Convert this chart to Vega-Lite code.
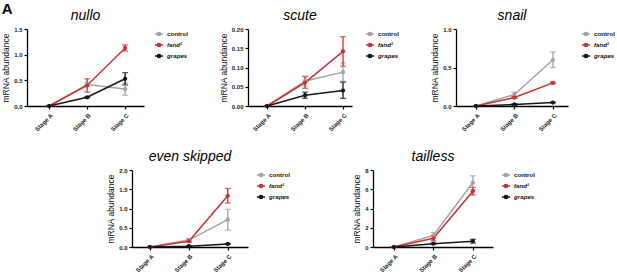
{
  "$schema": "https://vega.github.io/schema/vega-lite/v6.json",
  "padding": {"left": 1, "top": 2, "right": 0, "bottom": 0},
  "title": {"text": "A", "anchor": "start", "fontSize": 15, "fontWeight": "bold", "fontStyle": "normal", "font": "Liberation Sans", "offset": -8},
  "datasets": {
    "d": [
      {"gene": "nullo", "group": "control", "stage": "Stage A", "mean": 0, "lo": 0, "hi": 0},
      {"gene": "nullo", "group": "control", "stage": "Stage B", "mean": 0.42, "lo": 0.38, "hi": 0.46},
      {"gene": "nullo", "group": "control", "stage": "Stage C", "mean": 0.33, "lo": 0.21, "hi": 0.45},
      {"gene": "nullo", "group": "fand¹", "stage": "Stage A", "mean": 0, "lo": 0, "hi": 0},
      {"gene": "nullo", "group": "fand¹", "stage": "Stage B", "mean": 0.40, "lo": 0.27, "hi": 0.53},
      {"gene": "nullo", "group": "fand¹", "stage": "Stage C", "mean": 1.13, "lo": 1.07, "hi": 1.19},
      {"gene": "nullo", "group": "grapes", "stage": "Stage A", "mean": 0, "lo": 0, "hi": 0},
      {"gene": "nullo", "group": "grapes", "stage": "Stage B", "mean": 0.17, "lo": 0.16, "hi": 0.18},
      {"gene": "nullo", "group": "grapes", "stage": "Stage C", "mean": 0.53, "lo": 0.41, "hi": 0.65},
      {"gene": "scute", "group": "control", "stage": "Stage A", "mean": 0, "lo": 0, "hi": 0},
      {"gene": "scute", "group": "control", "stage": "Stage B", "mean": 0.065, "lo": 0.052, "hi": 0.078},
      {"gene": "scute", "group": "control", "stage": "Stage C", "mean": 0.088, "lo": 0.064, "hi": 0.112},
      {"gene": "scute", "group": "fand¹", "stage": "Stage A", "mean": 0, "lo": 0, "hi": 0},
      {"gene": "scute", "group": "fand¹", "stage": "Stage B", "mean": 0.061, "lo": 0.046, "hi": 0.076},
      {"gene": "scute", "group": "fand¹", "stage": "Stage C", "mean": 0.142, "lo": 0.103, "hi": 0.180},
      {"gene": "scute", "group": "grapes", "stage": "Stage A", "mean": 0, "lo": 0, "hi": 0},
      {"gene": "scute", "group": "grapes", "stage": "Stage B", "mean": 0.028, "lo": 0.020, "hi": 0.036},
      {"gene": "scute", "group": "grapes", "stage": "Stage C", "mean": 0.040, "lo": 0.020, "hi": 0.062},
      {"gene": "snail", "group": "control", "stage": "Stage A", "mean": 0, "lo": 0, "hi": 0},
      {"gene": "snail", "group": "control", "stage": "Stage B", "mean": 0.15, "lo": 0.12, "hi": 0.18},
      {"gene": "snail", "group": "control", "stage": "Stage C", "mean": 0.60, "lo": 0.50, "hi": 0.70},
      {"gene": "snail", "group": "fand¹", "stage": "Stage A", "mean": 0, "lo": 0, "hi": 0},
      {"gene": "snail", "group": "fand¹", "stage": "Stage B", "mean": 0.11, "lo": 0.10, "hi": 0.12},
      {"gene": "snail", "group": "fand¹", "stage": "Stage C", "mean": 0.30, "lo": 0.29, "hi": 0.31},
      {"gene": "snail", "group": "grapes", "stage": "Stage A", "mean": 0, "lo": 0, "hi": 0},
      {"gene": "snail", "group": "grapes", "stage": "Stage B", "mean": 0.02, "lo": 0.01, "hi": 0.03},
      {"gene": "snail", "group": "grapes", "stage": "Stage C", "mean": 0.045, "lo": 0.04, "hi": 0.05},
      {"gene": "even skipped", "group": "control", "stage": "Stage A", "mean": 0, "lo": 0, "hi": 0},
      {"gene": "even skipped", "group": "control", "stage": "Stage B", "mean": 0.18, "lo": 0.14, "hi": 0.22},
      {"gene": "even skipped", "group": "control", "stage": "Stage C", "mean": 0.71, "lo": 0.44, "hi": 0.98},
      {"gene": "even skipped", "group": "fand¹", "stage": "Stage A", "mean": 0, "lo": 0, "hi": 0},
      {"gene": "even skipped", "group": "fand¹", "stage": "Stage B", "mean": 0.15, "lo": 0.12, "hi": 0.18},
      {"gene": "even skipped", "group": "fand¹", "stage": "Stage C", "mean": 1.33, "lo": 1.14, "hi": 1.52},
      {"gene": "even skipped", "group": "grapes", "stage": "Stage A", "mean": 0, "lo": 0, "hi": 0},
      {"gene": "even skipped", "group": "grapes", "stage": "Stage B", "mean": 0.02, "lo": 0.01, "hi": 0.03},
      {"gene": "even skipped", "group": "grapes", "stage": "Stage C", "mean": 0.08, "lo": 0.07, "hi": 0.09},
      {"gene": "tailless", "group": "control", "stage": "Stage A", "mean": 0, "lo": 0, "hi": 0},
      {"gene": "tailless", "group": "control", "stage": "Stage B", "mean": 1.2, "lo": 0.9, "hi": 1.5},
      {"gene": "tailless", "group": "control", "stage": "Stage C", "mean": 6.7, "lo": 5.95, "hi": 7.4},
      {"gene": "tailless", "group": "fand¹", "stage": "Stage A", "mean": 0, "lo": 0, "hi": 0},
      {"gene": "tailless", "group": "fand¹", "stage": "Stage B", "mean": 0.9, "lo": 0.65, "hi": 1.15},
      {"gene": "tailless", "group": "fand¹", "stage": "Stage C", "mean": 5.8, "lo": 5.4, "hi": 6.2},
      {"gene": "tailless", "group": "grapes", "stage": "Stage A", "mean": 0, "lo": 0, "hi": 0},
      {"gene": "tailless", "group": "grapes", "stage": "Stage B", "mean": 0.35, "lo": 0.3, "hi": 0.4},
      {"gene": "tailless", "group": "grapes", "stage": "Stage C", "mean": 0.6, "lo": 0.4, "hi": 0.8}
    ]
  },
  "spacing": 17,
  "resolve": {"legend": {"color": "independent"}, "scale": {"color": "independent"}},
  "vconcat": [
    {
      "spacing": 31,
      "align": "none",
      "resolve": {"legend": {"color": "independent"}, "scale": {"color": "independent"}},
      "hconcat": [
        {
          "title": "nullo",
          "width": 117, "height": 77,
          "data": {"name": "d"},
          "transform": [{"filter": "datum.gene === 'nullo'"}],
          "encoding": {
            "x": {"field": "stage", "type": "ordinal", "title": null, "scale": {"type": "point", "padding": 0.54, "align": 0.54}},
            "color": {"field": "group", "type": "nominal", "scale": {"domain": ["control", "fand¹", "grapes"], "range": ["#a3a3a3", "#c8312f", "#161616"]}, "legend": {"offset": 10, "encode": {"labels": {"update": {"fontStyle": {"signal": "datum.label === 'control' ? 'normal' : 'italic'"}}}}}}
          },
          "layer": [
            {"mark": {"type": "errorbar", "ticks": {"size": 6}, "thickness": 1.3}, "encoding": {"y": {"field": "lo", "type": "quantitative", "scale": {"domain": [0, 1.5]}, "axis": {"values": [0, 0.5, 1, 1.5], "format": ".1f", "title": "mRNA abundance"}}, "y2": {"field": "hi"}}},
            {"mark": {"type": "line", "strokeWidth": 1.5, "point": {"filled": true, "size": 18}}, "encoding": {"y": {"field": "mean", "type": "quantitative", "scale": {"domain": [0, 1.5]}, "axis": {"values": [0, 0.5, 1, 1.5], "format": ".1f", "title": "mRNA abundance"}}}}
          ]
        },
        {
          "title": "scute",
          "width": 104, "height": 77,
          "data": {"name": "d"},
          "transform": [{"filter": "datum.gene === 'scute'"}],
          "encoding": {
            "x": {"field": "stage", "type": "ordinal", "title": null, "scale": {"type": "point", "padding": 0.37, "align": 0.68}},
            "color": {"field": "group", "type": "nominal", "scale": {"domain": ["control", "fand¹", "grapes"], "range": ["#a3a3a3", "#c8312f", "#161616"]}, "legend": {"encode": {"labels": {"update": {"fontStyle": {"signal": "datum.label === 'control' ? 'normal' : 'italic'"}}}}}}
          },
          "layer": [
            {"mark": {"type": "errorbar", "ticks": {"size": 6}, "thickness": 1.3}, "encoding": {"y": {"field": "lo", "type": "quantitative", "scale": {"domain": [0, 0.2]}, "axis": {"values": [0, 0.05, 0.1, 0.15, 0.2], "format": ".2f", "title": "mRNA abundance"}}, "y2": {"field": "hi"}}},
            {"mark": {"type": "line", "strokeWidth": 1.5, "point": {"filled": true, "size": 18}}, "encoding": {"y": {"field": "mean", "type": "quantitative", "scale": {"domain": [0, 0.2]}, "axis": {"values": [0, 0.05, 0.1, 0.15, 0.2], "format": ".2f", "title": "mRNA abundance"}}}}
          ]
        },
        {
          "title": "snail",
          "width": 112, "height": 77,
          "data": {"name": "d"},
          "transform": [{"filter": "datum.gene === 'snail'"}],
          "encoding": {
            "x": {"field": "stage", "type": "ordinal", "title": null, "scale": {"type": "point", "padding": 0.455, "align": 0.57}},
            "color": {"field": "group", "type": "nominal", "scale": {"domain": ["control", "fand¹", "grapes"], "range": ["#a3a3a3", "#c8312f", "#161616"]}, "legend": {"encode": {"labels": {"update": {"fontStyle": {"signal": "datum.label === 'control' ? 'normal' : 'italic'"}}}}}}
          },
          "layer": [
            {"mark": {"type": "errorbar", "ticks": {"size": 6}, "thickness": 1.3}, "encoding": {"y": {"field": "lo", "type": "quantitative", "scale": {"domain": [0, 1]}, "axis": {"values": [0, 0.5, 1], "format": ".1f", "title": "mRNA abundance"}}, "y2": {"field": "hi"}}},
            {"mark": {"type": "line", "strokeWidth": 1.5, "point": {"filled": true, "size": 18}}, "encoding": {"y": {"field": "mean", "type": "quantitative", "scale": {"domain": [0, 1]}, "axis": {"values": [0, 0.5, 1], "format": ".1f", "title": "mRNA abundance"}}}}
          ]
        }
      ]
    },
    {
      "spacing": 62,
      "align": "none",
      "resolve": {"legend": {"color": "independent"}, "scale": {"color": "independent"}},
      "hconcat": [
        {
          "width": 17, "height": 10,
          "data": {"values": []},
          "mark": "point"
        },
        {
          "title": "even skipped",
          "width": 116, "height": 77,
          "data": {"name": "d"},
          "transform": [{"filter": "datum.gene === 'even skipped'"}],
          "encoding": {
            "x": {"field": "stage", "type": "ordinal", "title": null, "scale": {"type": "point", "padding": 0.49, "align": 0.47}},
            "color": {"field": "group", "type": "nominal", "scale": {"domain": ["control", "fand¹", "grapes"], "range": ["#a3a3a3", "#c8312f", "#161616"]}, "legend": {"offset": 8, "encode": {"labels": {"update": {"fontStyle": {"signal": "datum.label === 'control' ? 'normal' : 'italic'"}}}}}}
          },
          "layer": [
            {"mark": {"type": "errorbar", "ticks": {"size": 6}, "thickness": 1.3}, "encoding": {"y": {"field": "lo", "type": "quantitative", "scale": {"domain": [0, 2]}, "axis": {"values": [0, 0.5, 1, 1.5, 2], "format": ".1f", "title": "mRNA abundance"}}, "y2": {"field": "hi"}}},
            {"mark": {"type": "line", "strokeWidth": 1.5, "point": {"filled": true, "size": 18}}, "encoding": {"y": {"field": "mean", "type": "quantitative", "scale": {"domain": [0, 2]}, "axis": {"values": [0, 0.5, 1, 1.5, 2], "format": ".1f", "title": "mRNA abundance"}}}}
          ]
        },
        {
          "title": "tailless",
          "width": 120, "height": 77,
          "data": {"name": "d"},
          "transform": [{"filter": "datum.gene === 'tailless'"}],
          "encoding": {
            "x": {"field": "stage", "type": "ordinal", "title": null, "scale": {"type": "point", "padding": 0.52, "align": 0.51}},
            "color": {"field": "group", "type": "nominal", "scale": {"domain": ["control", "fand¹", "grapes"], "range": ["#a3a3a3", "#c8312f", "#161616"]}, "legend": {"offset": 8, "encode": {"labels": {"update": {"fontStyle": {"signal": "datum.label === 'control' ? 'normal' : 'italic'"}}}}}}
          },
          "layer": [
            {"mark": {"type": "errorbar", "ticks": {"size": 6}, "thickness": 1.3}, "encoding": {"y": {"field": "lo", "type": "quantitative", "scale": {"domain": [0, 8]}, "axis": {"values": [0, 2, 4, 6, 8], "format": "d", "title": "mRNA abundance"}}, "y2": {"field": "hi"}}},
            {"mark": {"type": "line", "strokeWidth": 1.5, "point": {"filled": true, "size": 18}}, "encoding": {"y": {"field": "mean", "type": "quantitative", "scale": {"domain": [0, 8]}, "axis": {"values": [0, 2, 4, 6, 8], "format": "d", "title": "mRNA abundance"}}}}
          ]
        }
      ]
    }
  ],
  "config": {
    "view": {"stroke": null},
    "font": "Liberation Sans",
    "title": {"fontSize": 14, "fontStyle": "italic", "fontWeight": "normal", "font": "Liberation Sans", "offset": 3, "color": "#000"},
    "axis": {"grid": false, "domainColor": "#000", "domainWidth": 1.3, "tickColor": "#000", "tickWidth": 1.2, "tickSize": 3, "labelColor": "#222", "labelFontSize": 6, "labelFontWeight": "bold", "labelFont": "Liberation Sans", "titleFont": "Liberation Sans", "titleFontSize": 8.5, "titleFontWeight": "normal", "titleColor": "#111", "labelPadding": 2, "titlePadding": 3, "labelOverlap": false},
    "axisX": {"labelAngle": -45, "labelPadding": 3},
    "legend": {"title": null, "orient": "right", "offset": 13, "labelFontSize": 6.2, "labelFontWeight": "bold", "labelColor": "#111", "labelFont": "Liberation Sans", "labelOffset": 3, "rowPadding": 1, "padding": 0, "symbolType": "M-1,0H1M-0.4,0A0.4,0.4,0,1,0,0.4,0A0.4,0.4,0,1,0,-0.4,0Z", "symbolSize": 64, "symbolStrokeWidth": 1.5}
  }
}
